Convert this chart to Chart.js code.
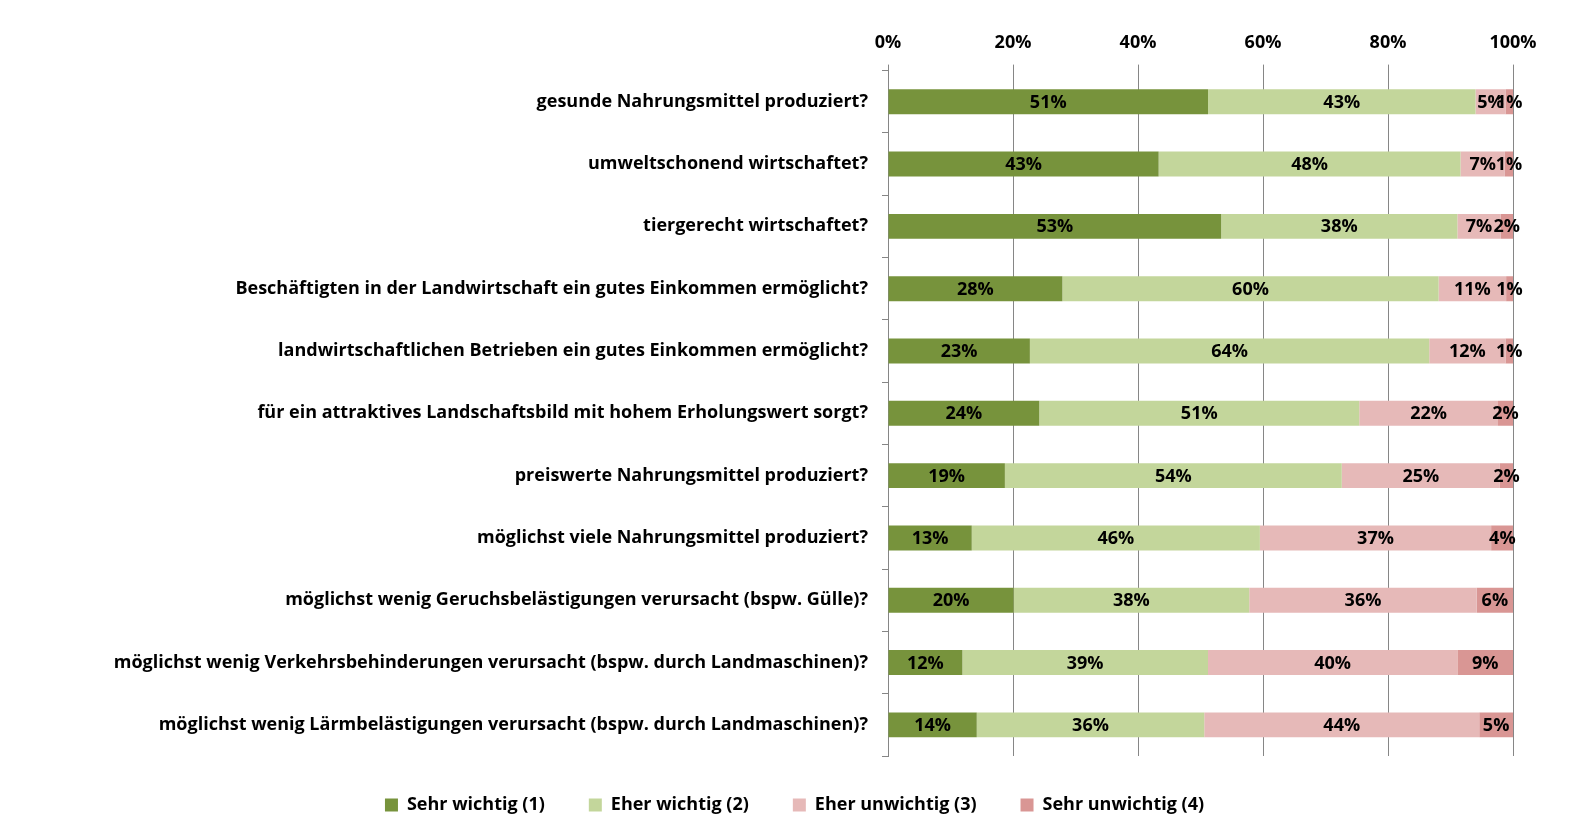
<!DOCTYPE html>
<html>
<head>
<meta charset="utf-8">
<script src="https://cdn.jsdelivr.net/npm/chart.js@4"></script>
<style>
  html, body { margin: 0; padding: 0; background: #fff; overflow: hidden; }
  #wrap { width: 1580px; height: 836px; }
</style>
</head>
<body>
<div id="wrap"><canvas id="stackChart"></canvas></div>
<script>
const categories = [
    'gesunde Nahrungsmittel produziert?',
    'umweltschonend wirtschaftet?',
    'tiergerecht wirtschaftet?',
    'Beschäftigten in der Landwirtschaft ein gutes Einkommen ermöglicht?',
    'landwirtschaftlichen Betrieben ein gutes Einkommen ermöglicht?',
    'für ein attraktives Landschaftsbild mit hohem Erholungswert sorgt?',
    'preiswerte Nahrungsmittel produziert?',
    'möglichst viele Nahrungsmittel produziert?',
    'möglichst wenig Geruchsbelästigungen verursacht (bspw. Gülle)?',
    'möglichst wenig Verkehrsbehinderungen verursacht (bspw. durch Landmaschinen)?',
    'möglichst wenig Lärmbelästigungen verursacht (bspw. durch Landmaschinen)?'
];
const seriesNames = ['Sehr wichtig (1)', 'Eher wichtig (2)', 'Eher unwichtig (3)', 'Sehr unwichtig (4)'];
const sehrWichtig    = [51.2, 43.3, 53.3, 27.9, 22.7, 24.2, 18.7, 13.4, 20.1, 11.9, 14.2];
const eherWichtig    = [42.8, 48.3, 37.8, 60.2, 63.9, 51.2, 53.9, 46.1, 37.7, 39.3, 36.4];
const eherUnwichtig  = [4.8, 7.1, 6.9, 10.8, 12.2, 22.2, 25.3, 37.0, 36.4, 39.9, 44.0];
const sehrUnwichtig  = [1.2, 1.3, 2.0, 1.1, 1.2, 2.4, 2.1, 3.6, 5.8, 8.9, 5.4];
const tickLabels = ['0%', '20%', '40%', '60%', '80%', '100%'];

const colors = ['#77933C', '#C3D69B', '#E6B9B8', '#D99694'];
const FONT = '"Open Sans", "Liberation Sans", sans-serif';
const FSIZE = 18;

// draw the rounded percentages in the middle of every segment
const segmentLabels = {
    id: 'segmentLabels',
    afterDatasetsDraw(chart) {
        const ctx = chart.ctx;
        ctx.save();
        ctx.font = 'bold ' + FSIZE + 'px ' + FONT;
        ctx.fillStyle = '#000';
        ctx.textAlign = 'center';
        ctx.textBaseline = 'middle';
        chart.data.datasets.forEach((ds, i) => {
            chart.getDatasetMeta(i).data.forEach((bar, j) => {
                const p = bar.getCenterPoint();
                ctx.fillText(Math.round(ds.data[j]) + '%', p.x, p.y + 1);
            });
        });
        ctx.restore();
    }
};

// legend sits centred on the page, not on the padded box
const legendShift = {
    id: 'legendShift',
    afterLayout(chart) {
        chart.legend.left += 38;
        chart.legend.right += 38;
        chart.legend.top -= 4;
        chart.legend.bottom -= 4;
    }
};

const ctx = document.getElementById('stackChart').getContext('2d');
new Chart(ctx, {
    type: 'bar',
    data: {
        labels: categories,
        datasets: [sehrWichtig, eherWichtig, eherUnwichtig, sehrUnwichtig].map((d, i) => ({
            label: seriesNames[i],
            data: d,
            backgroundColor: colors[i],
            borderWidth: 0,
            barPercentage: 0.4,
            categoryPercentage: 1
        }))
    },
    options: {
        indexAxis: 'y',
        responsive: true,
        maintainAspectRatio: false,
        animation: false,
        layout: { padding: { top: 21, right: 67, bottom: 8, left: 0 } },
        scales: {
            x: {
                position: 'top',
                stacked: true,
                min: 0,
                max: 100,
                ticks: {
                    stepSize: 20,
                    color: '#000',
                    font: { family: FONT, size: FSIZE, weight: 'bold' },
                    padding: 11,
                    callback: (v, i) => tickLabels[i]
                },
                grid: { color: '#868686', tickLength: 6 },
                border: { display: false }
            },
            y: {
                stacked: true,
                ticks: {
                    color: '#000',
                    font: { family: FONT, size: FSIZE, weight: 'bold' },
                    padding: 14
                },
                grid: { drawOnChartArea: false, color: '#868686', tickLength: 6 },
                border: { display: true, color: '#868686' },
                afterFit: (axis) => { axis.width = 888; }
            }
        },
        plugins: {
            legend: {
                position: 'bottom',
                labels: {
                    color: '#000',
                    font: { family: FONT, size: FSIZE, weight: 'bold' },
                    boxWidth: 13,
                    boxHeight: 13,
                    padding: 44
                }
            },
            tooltip: { enabled: false }
        }
    },
    plugins: [segmentLabels, legendShift]
});
</script>
</body>
</html>
